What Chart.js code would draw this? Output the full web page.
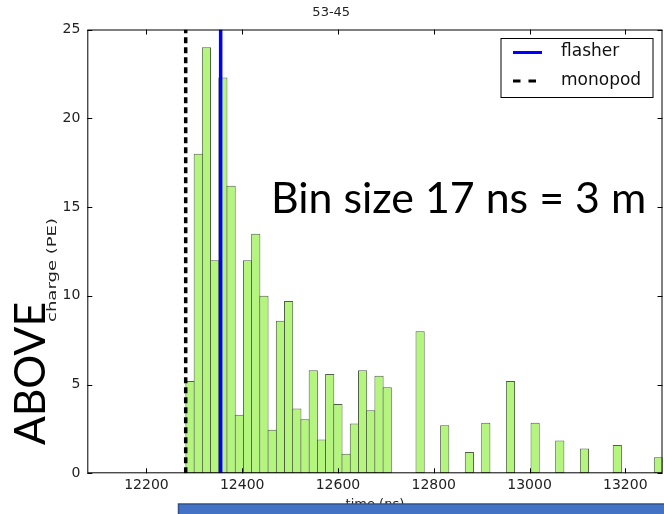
<!DOCTYPE html>
<html>
<head>
<meta charset="utf-8">
<script src="https://cdn.jsdelivr.net/npm/chart.js@4.4.1/dist/chart.umd.min.js"></script>
<style>
  html, body { margin: 0; padding: 0; background: #fff; }
  #wrap { position: relative; width: 664px; height: 514px; }
</style>
</head>
<body>
<div id="wrap"><canvas id="chart" width="664" height="514"></canvas></div>
<script>
// histogram bins (centre of each 17 ns bin, ns) and charge in each bin (PE)
const binCenters = [
  12291.0, 12308.2, 12325.3, 12342.5, 12359.6, 12376.8, 12394.0, 12411.1, 12428.3,
  12445.4, 12462.6, 12479.8, 12496.9, 12514.1, 12531.2, 12548.4, 12565.6, 12582.7,
  12599.9, 12617.0, 12634.2, 12651.4, 12668.5, 12685.7, 12702.8,
  12771.5, 12822.9, 12874.4, 12908.7, 12960.2, 13011.7, 13063.2, 13114.7, 13183.3, 13269.1
];
const charge = [
  5.2, 18.0, 24.0, 12.0, 22.3, 16.2, 3.3, 12.0, 13.5,
  10.0, 2.45, 8.6, 9.7, 3.65, 3.05, 5.8, 1.9, 5.6,
  3.9, 1.1, 2.8, 5.8, 3.55, 5.5, 4.85,
  8.0, 2.7, 1.2, 2.85, 5.2, 2.85, 1.85, 1.4, 1.6, 0.9
];
const flasherTime = 12355;
const monopodTime = 12282;
const xRange = [12076.5, 13277.7];
const yRange = [0, 25];
const xTicks = [12200, 12400, 12600, 12800, 13000, 13200];
const yTicks = [0, 5, 10, 15, 20, 25];
const seriesNames = ['flasher', 'monopod'];

const FONT = 'DejaVu Sans';
const SLIDE_FONT = 'Lato';

function fitSize(ctx, text, family, width) {
  ctx.font = '100px ' + family;
  return 100 * width / ctx.measureText(text).width;
}

const overlay = {
  id: 'overlay',
  afterDraw(chart) {
    const { ctx, chartArea: a, scales: { x, y } } = chart;
    ctx.save();

    // frame round the axes
    ctx.strokeStyle = '#000';
    ctx.lineWidth = 1;
    ctx.strokeRect(a.left + 0.5, a.top + 0.5, a.right - a.left - 1, a.bottom - a.top - 1);

    // ticks pointing inwards, on all four sides
    ctx.beginPath();
    xTicks.forEach((v) => {
      const px = Math.round(x.getPixelForValue(v)) + 0.5;
      ctx.moveTo(px, a.bottom); ctx.lineTo(px, a.bottom - 5);
      ctx.moveTo(px, a.top); ctx.lineTo(px, a.top + 5);
    });
    yTicks.forEach((v) => {
      const py = Math.round(y.getPixelForValue(v)) + 0.5;
      ctx.moveTo(a.left, py); ctx.lineTo(a.left + 5, py);
      ctx.moveTo(a.right, py); ctx.lineTo(a.right - 5, py);
    });
    ctx.stroke();

    // legend box
    ctx.fillStyle = '#fff';
    ctx.fillRect(501, 38.5, 152, 59);
    ctx.strokeRect(501, 38.5, 152, 59);
    ctx.lineWidth = 3;
    ctx.strokeStyle = '#0000ff';
    ctx.beginPath(); ctx.moveTo(513, 52.5); ctx.lineTo(542, 52.5); ctx.stroke();
    ctx.strokeStyle = '#000';
    ctx.setLineDash([7.5, 8]);
    ctx.beginPath(); ctx.moveTo(513, 81); ctx.lineTo(542, 81); ctx.stroke();
    ctx.setLineDash([]);
    ctx.fillStyle = '#111';
    ctx.font = '17px ' + FONT;
    ctx.textBaseline = 'middle';
    ctx.textAlign = 'left';
    ctx.fillText(seriesNames[0], 561, 52);
    ctx.fillText(seriesNames[1], 561, 81);

    // y axis label (the slide image is stretched a little in height)
    ctx.save();
    ctx.translate(56, 270);
    ctx.rotate(-Math.PI / 2);
    ctx.scale(1.5, 1);
    ctx.font = '12px ' + FONT;
    ctx.textAlign = 'center';
    ctx.textBaseline = 'alphabetic';
    ctx.fillStyle = '#222';
    ctx.fillText('charge (PE)', 0, 0);
    ctx.restore();

    // slide annotations
    ctx.fillStyle = '#000';
    ctx.textBaseline = 'alphabetic';
    const binText = 'Bin size 17 ns = 3 m';
    ctx.font = fitSize(ctx, binText, SLIDE_FONT, 375).toFixed(1) + 'px ' + SLIDE_FONT;
    ctx.fillText(binText, 271, 213);

    ctx.save();
    ctx.translate(45, 445);
    ctx.rotate(-Math.PI / 2);
    ctx.font = fitSize(ctx, 'ABOVE', SLIDE_FONT, 143).toFixed(1) + 'px ' + SLIDE_FONT;
    ctx.fillText('ABOVE', 0, 0);
    ctx.restore();

    // blue slide bar at the bottom
    ctx.fillStyle = '#4472c4';
    ctx.strokeStyle = '#2f528f';
    ctx.lineWidth = 1.5;
    ctx.fillRect(178.5, 504, 500, 20);
    ctx.strokeRect(178.5, 504, 500, 20);

    ctx.restore();
  }
};

const binWidthPx = 8.23;

new Chart(document.getElementById('chart'), {
  type: 'bar',
  data: {
    datasets: [
      {
        type: 'line',
        label: seriesNames[0],
        data: [{ x: flasherTime, y: yRange[0] }, { x: flasherTime, y: yRange[1] }],
        borderColor: '#0000ff',
        borderWidth: 3.5,
        pointRadius: 0,
        order: 0,
      },
      {
        type: 'line',
        label: seriesNames[1],
        data: [{ x: monopodTime, y: yRange[0] }, { x: monopodTime, y: yRange[1] }],
        borderColor: '#000000',
        borderWidth: 3.5,
        borderDash: [6, 4],
        pointRadius: 0,
        order: 1,
      },
      {
        label: 'charge',
        data: binCenters.map((c, i) => ({ x: c, y: charge[i] })),
        backgroundColor: '#b4f57d',
        borderColor: '#4f5f44',
        borderWidth: 1,
        borderSkipped: false,
        barPercentage: (binWidthPx + 1) / binWidthPx,
        categoryPercentage: 1,
        order: 2,
      },
    ],
  },
  options: {
    responsive: false,
    animation: false,
    layout: { padding: { left: 0, right: 1.5, top: 0, bottom: 0 } },
    scales: {
      x: {
        type: 'linear',
        offset: false,
        min: xRange[0],
        max: xRange[1],
        afterBuildTicks: (s) => { s.ticks = xTicks.map((v) => ({ value: v })); },
        afterFit: (s) => { s.height = 40.7; },
        grid: { display: false, drawTicks: false },
        border: { display: false },
        ticks: {
          padding: 4,
          color: '#222',
          font: { family: FONT, size: 14 },
          callback: (v) => String(v),
        },
        title: {
          display: true,
          text: 'time (ns)',
          color: '#222',
          font: { family: FONT, size: 13 },
          padding: { top: 0, bottom: 2 },
        },
      },
      y: {
        min: yRange[0],
        max: yRange[1],
        afterBuildTicks: (s) => { s.ticks = yTicks.map((v) => ({ value: v })); },
        afterFit: (s) => { s.width = 87.3; },
        grid: { display: false, drawTicks: false },
        border: { display: false },
        ticks: {
          padding: 7,
          color: '#222',
          font: { family: FONT, size: 14 },
        },
      },
    },
    plugins: {
      legend: { display: false },
      tooltip: { enabled: false },
      title: {
        display: true,
        text: '53-45',
        color: '#222',
        font: { family: FONT, size: 13, weight: 'normal' },
        padding: { top: 5, bottom: 8.9 },
      },
    },
  },
  plugins: [overlay],
});
</script>
</body>
</html>
